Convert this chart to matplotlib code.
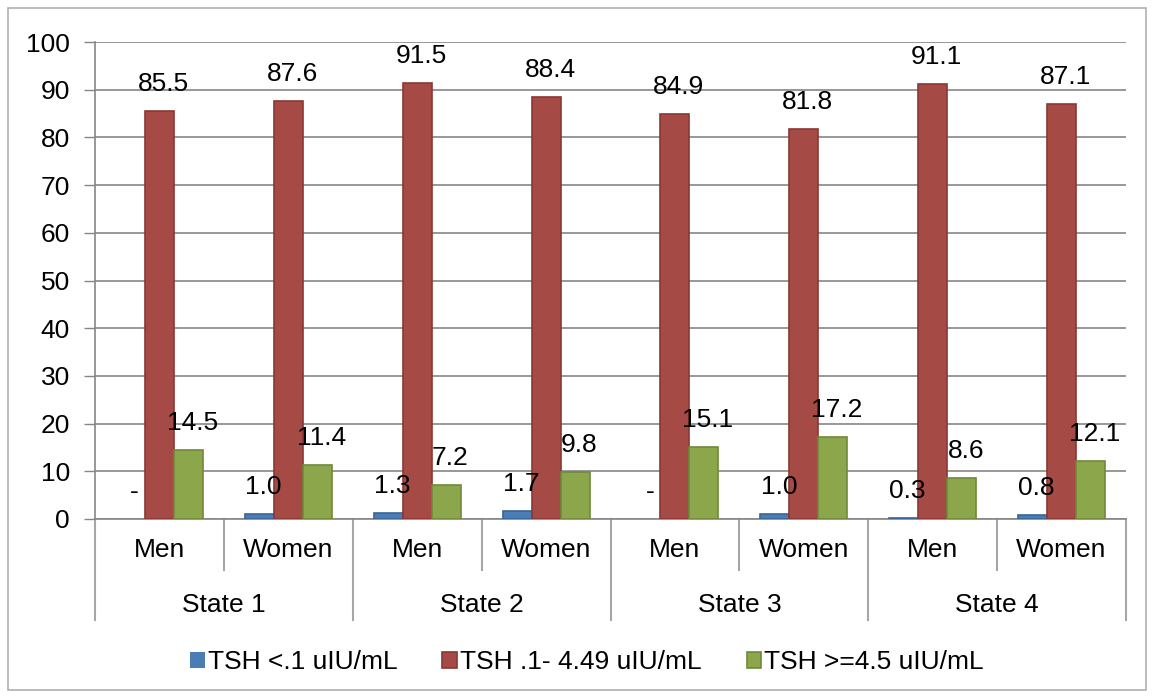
import matplotlib
matplotlib.use("Agg")
import matplotlib.pyplot as plt
from matplotlib.patches import Rectangle
import numpy as np

plt.rcParams['font.family'] = ['Liberation Sans', 'DejaVu Sans']

states = ["State 1", "State 2", "State 3", "State 4"]
sexes = ["Men", "Women"]
series_names = ["TSH <.1 uIU/mL", "TSH .1- 4.49 uIU/mL", "TSH >=4.5 uIU/mL"]
tsh_low = [0.0, 1.0, 1.3, 1.7, 0.0, 1.0, 0.3, 0.8]
tsh_normal = [85.5, 87.6, 91.5, 88.4, 84.9, 81.8, 91.1, 87.1]
tsh_high = [14.5, 11.4, 7.2, 9.8, 15.1, 17.2, 8.6, 12.1]
y_ticks = [0, 10, 20, 30, 40, 50, 60, 70, 80, 90, 100]

fills = ["#4a7db5", "#a64a46", "#8ba64b"]
edges = ["#3a6594", "#8a3834", "#71893a"]
fs = 19

fig = plt.figure(figsize=(11.54, 7), dpi=100)
ax = fig.add_axes([95/1154, 1 - 519/700, (1126 - 95)/1154, (519 - 42)/700])

x = np.arange(len(tsh_normal))
w = 0.225
for i, vals in enumerate([tsh_low, tsh_normal, tsh_high]):
    pos = x + (i - 1) * w
    lw = [1.2 if v > 0 else 0 for v in vals]
    ax.bar(pos, vals, w, color=fills[i], edgecolor=edges[i], linewidth=lw,
           label=series_names[i], zorder=3)
    for p, v in zip(pos, vals):
        txt = "-" if v == 0 else f"{v:.1f}"
        ax.annotate(txt, (p, v), xytext=(4, 27), textcoords="offset pixels",
                    ha="center", va="center", fontsize=fs, zorder=4)

ax.set_xlim(-0.5, 7.5)
ax.set_ylim(0, 100)
ax.set_yticks(y_ticks)
ax.tick_params(axis="y", labelsize=fs, length=8, width=1, color="#868686", pad=10)
ax.set_xticks([])
ax.grid(axis="y", color="#868686", linewidth=1.2, zorder=0)
for s in ["top", "right"]:
    ax.spines[s].set_visible(False)
ax.spines["left"].set_color("#868686")
ax.spines["bottom"].set_color("#868686")
ax.spines["left"].set_linewidth(1.2)
ax.spines["bottom"].set_linewidth(1.2)

# two-level category axis
trans = ax.get_xaxis_transform()
for b in np.arange(-0.5, 8, 1.0):
    low = -0.212 if (b + 0.5) % 2 == 0 else -0.107
    ax.plot([b, b], [0, low], transform=trans, color="#a6a6a6", linewidth=1.5,
            clip_on=False)
for xi in x:
    ax.text(xi, -0.065, sexes[xi % 2], transform=trans, ha="center", va="center",
            fontsize=fs)
for j, st in enumerate(states):
    ax.text(2 * j + 0.5, -0.18, st, transform=trans, ha="center", va="center",
            fontsize=fs)

fig.legend(loc="center", bbox_to_anchor=(587/1154, 1 - 662/700), ncol=3,
           frameon=False, fontsize=fs, handlelength=0.55, handleheight=0.55,
           handletextpad=0.12, columnspacing=1.7, borderpad=0, borderaxespad=0)

fig.patches.append(Rectangle((8/1154, 10/700), 1138/1154, 682/700,
                             transform=fig.transFigure, fill=False,
                             edgecolor="#b0b0b0", linewidth=1.2))

fig.savefig("out.png", dpi=100)
